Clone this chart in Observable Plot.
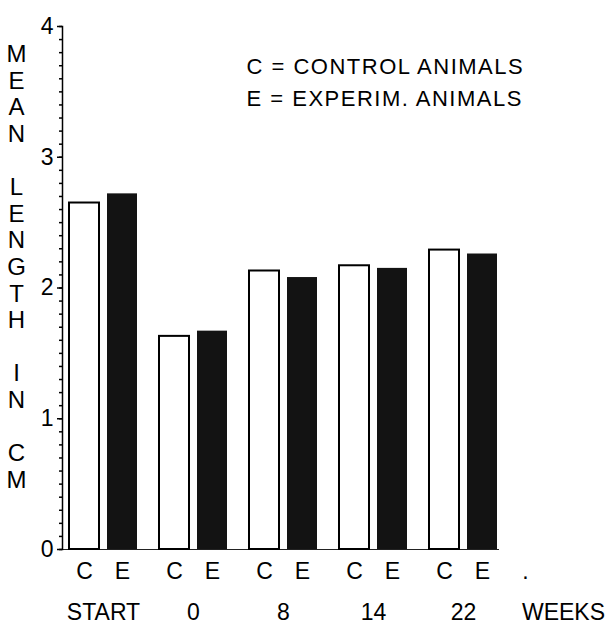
<!DOCTYPE html>
<html>
<head>
<meta charset="utf-8">
<script src="https://cdn.jsdelivr.net/npm/d3@7"></script>
<script src="https://cdn.jsdelivr.net/npm/@observablehq/plot@0.6"></script>
<style>
  html, body { margin: 0; padding: 0; background: white; }
</style>
</head>
<body>
<div id="chart"></div>
<script>
// ---- data ----
const weeks = ["START", "0", "8", "14", "22"];
const groups = ["START", "0", "8", "14", "22", "WEEKS"];
const control = [2.65, 1.63, 2.13, 2.17, 2.29];
const experim = [2.72, 1.67, 2.08, 2.15, 2.26];
const yTicks = [0, 1, 2, 3, 4];
const yMinorTicks = d3.range(0, 41).map(i => i / 10);
const yTitleWords = ["MEAN", "LENGTH", "IN", "CM"];
const legendLines = ["C = CONTROL ANIMALS", "E = EXPERIM. ANIMALS"];
const subLabels = ["C", "E"];
const endMark = ".";

const rows = weeks.map((w, i) => ({week: w, C: control[i], E: experim[i]}));
const yTitle = yTitleWords.map(w => w.split("").join("\n")).join("\n\n");
const font = "Liberation Sans, Arial, sans-serif";

const chart = Plot.plot({
  width: 611,
  height: 631,
  marginLeft: 62,
  marginRight: 17,
  marginTop: 26,
  marginBottom: 82,
  style: {fontFamily: font, background: "white", color: "black"},
  x: {domain: groups, paddingInner: 0.24, paddingOuter: 0.044, axis: null},
  y: {domain: [0, 4], axis: null},
  marks: [
    Plot.ruleY([0], {stroke: "#222", strokeWidth: 1, insetRight: 95}),
    Plot.barY(rows, {x: "week", y: "C", insetRight: 38, fill: "white", stroke: "black", strokeWidth: 2}),
    Plot.barY(rows, {x: "week", y: "E", insetLeft: 38, fill: "#131313"}),
    Plot.frame({anchor: "left", stroke: "black", strokeWidth: 1.5}),
    Plot.axisY({ticks: yMinorTicks, tickSize: 3, tickFormat: () => "", strokeWidth: 1.5}),
    Plot.axisY({ticks: yTicks, tickSize: 5, tickPadding: 4, fontSize: 23, tickFormat: d => String(d), strokeWidth: 1.5}),
    Plot.text([yTitle], {
      text: d => d, frameAnchor: "left", dx: -46, dy: -21.5,
      lineHeight: 1.108, fontSize: 24, lineAnchor: "middle", textAnchor: "middle"
    }),
    Plot.text([legendLines.join("\n")], {
      text: d => d, frameAnchor: "top-left", dx: 184, dy: 53,
      lineHeight: 1.4545, fontSize: 22, lineAnchor: "middle", textAnchor: "start"
    }),
    Plot.text(weeks, {x: d => d, text: () => subLabels[0], frameAnchor: "bottom", dy: 29, dx: -19, fontSize: 23}),
    Plot.text(weeks, {x: d => d, text: () => subLabels[1], frameAnchor: "bottom", dy: 29, dx: 19, fontSize: 23}),
    Plot.text(["WEEKS"], {x: d => d, text: () => endMark, frameAnchor: "bottom", dy: 29, dx: -28, fontSize: 23}),
    Plot.text(weeks, {x: d => d, text: d => d, frameAnchor: "bottom", dy: 70, fontSize: 23}),
    Plot.text(["WEEKS"], {x: d => d, text: d => d, frameAnchor: "bottom", dy: 70, dx: 10, fontSize: 23})
  ]
});
// widen the legend's letter spacing like the plotter lettering
d3.select(chart).selectAll("text")
  .filter(function() { return this.textContent.includes("ANIMALS"); })
  .style("letter-spacing", "1.5px");
document.getElementById("chart").appendChild(chart);
</script>
</body>
</html>
